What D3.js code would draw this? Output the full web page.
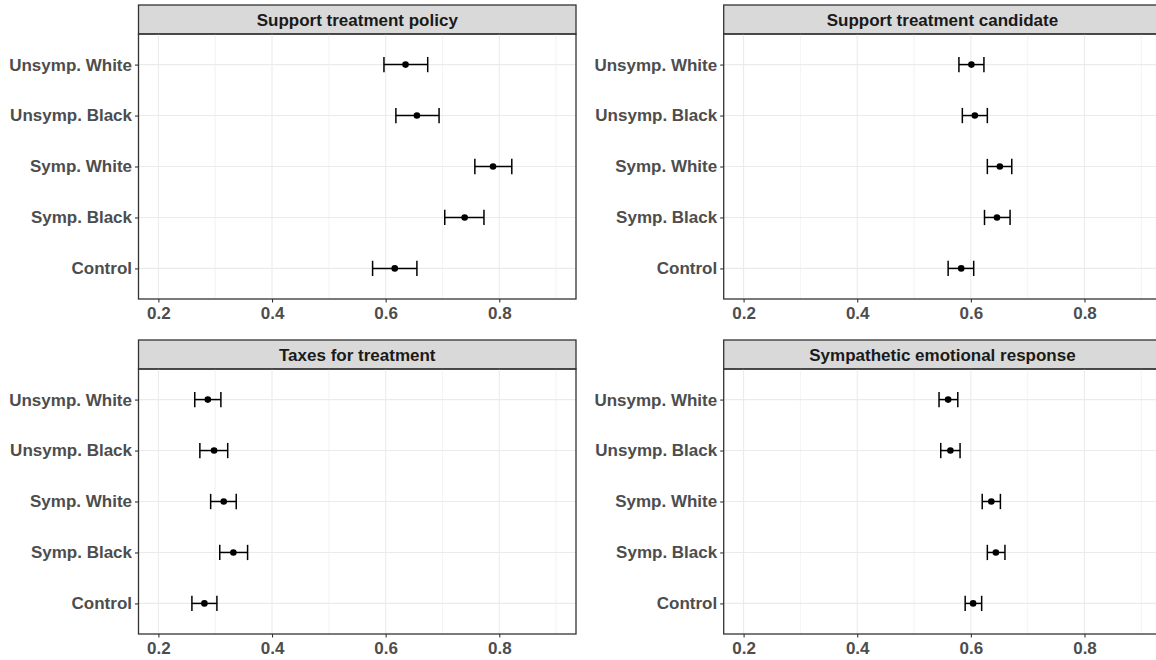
<!DOCTYPE html>
<html>
<head>
<meta charset="utf-8">
<script src="https://cdn.jsdelivr.net/npm/d3@7"></script>
<style>
  body { margin: 0; background: #ffffff; }
  .tick text { font-family: "Liberation Sans", Arial, sans-serif; font-weight: bold; }
</style>
</head>
<body>
<div id="chart"></div>
<script>
// Categories, bottom to top as in the plot
const categories = ["Control", "Symp. Black", "Symp. White", "Unsymp. Black", "Unsymp. White"];
const xTicks = [0.2, 0.4, 0.6, 0.8];
const xMinorTicks = [0.3, 0.5, 0.7, 0.9];
const panelTitles = ["Support treatment policy", "Support treatment candidate",
                     "Taxes for treatment", "Sympathetic emotional response"];

// Estimates and 95% intervals, same order as categories
const policyMean = [0.616, 0.739, 0.789, 0.655, 0.635];
const policyLow  = [0.577, 0.704, 0.757, 0.618, 0.597];
const policyHigh = [0.655, 0.773, 0.822, 0.694, 0.674];

const candidateMean = [0.583, 0.646, 0.651, 0.607, 0.601];
const candidateLow  = [0.560, 0.624, 0.629, 0.585, 0.579];
const candidateHigh = [0.605, 0.669, 0.672, 0.629, 0.623];

const taxesMean = [0.281, 0.332, 0.315, 0.298, 0.287];
const taxesLow  = [0.259, 0.308, 0.292, 0.273, 0.264];
const taxesHigh = [0.303, 0.357, 0.337, 0.322, 0.310];

const emotionMean = [0.604, 0.644, 0.636, 0.564, 0.560];
const emotionLow  = [0.590, 0.629, 0.620, 0.547, 0.544];
const emotionHigh = [0.619, 0.660, 0.652, 0.581, 0.577];

const xDomain = [0.165, 0.935];

function buildRows(mean, low, high) {
    // Zip the arrays into rows for d3
    return categories.map((c, i) => ({ cat: c, mean: mean[i], low: low[i], high: high[i] }));
}

const panels = [
    { title: panelTitles[0], rows: buildRows(policyMean, policyLow, policyHigh), left: 138.5, top: 5 },
    { title: panelTitles[1], rows: buildRows(candidateMean, candidateLow, candidateHigh), left: 723.7, top: 5 },
    { title: panelTitles[2], rows: buildRows(taxesMean, taxesLow, taxesHigh), left: 138.5, top: 340 },
    { title: panelTitles[3], rows: buildRows(emotionMean, emotionLow, emotionHigh), left: 723.7, top: 340 }
];

const width = 437.5;
const stripH = 29;
const height = 265;
const font = "'Liberation Sans', Arial, sans-serif";

const svg = d3.select("#chart")
    .append("svg")
        .attr("width", 1156)
        .attr("height", 660);

svg.append("rect")
    .attr("width", 1156)
    .attr("height", 660)
    .attr("fill", "#ffffff");

function drawPanel(p) {
    var g = svg.append("g")
        .attr("transform", `translate(${p.left},${p.top})`);

    // Strip with title
    g.append("rect")
        .attr("x", 0)
        .attr("y", 0)
        .attr("width", width)
        .attr("height", stripH)
        .attr("fill", "#d9d9d9")
        .attr("stroke", "#333333")
        .attr("stroke-width", 1.3);
    g.append("text")
        .attr("font-family", font)
        .style("font-size", "17px")
        .style("font-weight", "bold")
        .attr("fill", "#1a1a1a")
        .attr("text-anchor", "middle")
        .attr("x", width / 2)
        .attr("y", stripH / 2)
        .attr("dy", "0.36em")
        .text(p.title);

    var plot = g.append("g")
        .attr("transform", `translate(0,${stripH})`);

    var x = d3.scaleLinear().domain(xDomain).range([0, width]);
    var y = d3.scalePoint().domain(categories).range([height, 0]).padding(0.6);

    // Gridlines
    plot.selectAll(".minor")
        .data(xMinorTicks)
        .enter()
        .append("line")
        .attr("x1", d => x(d)).attr("x2", d => x(d))
        .attr("y1", 0).attr("y2", height)
        .attr("stroke", "#ebebeb")
        .attr("stroke-width", 0.6);
    plot.selectAll(".major")
        .data(xTicks)
        .enter()
        .append("line")
        .attr("x1", d => x(d)).attr("x2", d => x(d))
        .attr("y1", 0).attr("y2", height)
        .attr("stroke", "#ebebeb")
        .attr("stroke-width", 1.1);
    plot.selectAll(".hgrid")
        .data(categories)
        .enter()
        .append("line")
        .attr("x1", 0).attr("x2", width)
        .attr("y1", d => y(d)).attr("y2", d => y(d))
        .attr("stroke", "#ebebeb")
        .attr("stroke-width", 1.1);

    // Error bars
    var capH = y.step() * 0.15;
    var bars = plot.append("g")
        .selectAll("g")
        .data(p.rows)
        .enter()
        .append("g");
    bars.append("line")
        .attr("x1", d => x(d.low)).attr("x2", d => x(d.high))
        .attr("y1", d => y(d.cat)).attr("y2", d => y(d.cat))
        .attr("stroke", "#000").attr("stroke-width", 1.5);
    bars.append("line")
        .attr("x1", d => x(d.low)).attr("x2", d => x(d.low))
        .attr("y1", d => y(d.cat) - capH).attr("y2", d => y(d.cat) + capH)
        .attr("stroke", "#000").attr("stroke-width", 1.5);
    bars.append("line")
        .attr("x1", d => x(d.high)).attr("x2", d => x(d.high))
        .attr("y1", d => y(d.cat) - capH).attr("y2", d => y(d.cat) + capH)
        .attr("stroke", "#000").attr("stroke-width", 1.5);
    bars.append("circle")
        .attr("cx", d => x(d.mean))
        .attr("cy", d => y(d.cat))
        .attr("r", 3.3)
        .attr("fill", "#000");

    // Panel border
    plot.append("rect")
        .attr("width", width)
        .attr("height", height)
        .attr("fill", "none")
        .attr("stroke", "#333333")
        .attr("stroke-width", 1.3);

    // Axes
    var xAxis = plot.append("g")
        .attr("transform", `translate(0,${height})`)
        .call(d3.axisBottom(x).tickValues(xTicks).tickSize(3.5).tickPadding(4.5).tickFormat(d3.format(".1f")));
    var yAxis = plot.append("g")
        .call(d3.axisLeft(y).tickSize(3.5).tickPadding(3));

    [xAxis, yAxis].forEach(a => {
        a.select(".domain").remove();
        a.selectAll(".tick line").attr("stroke", "#333333").attr("stroke-width", 1.1);
        a.selectAll(".tick text")
            .attr("fill", "#4d4d4d")
            .style("font-size", "17px");
    });
}

panels.forEach(drawPanel);
</script>
</body>
</html>
